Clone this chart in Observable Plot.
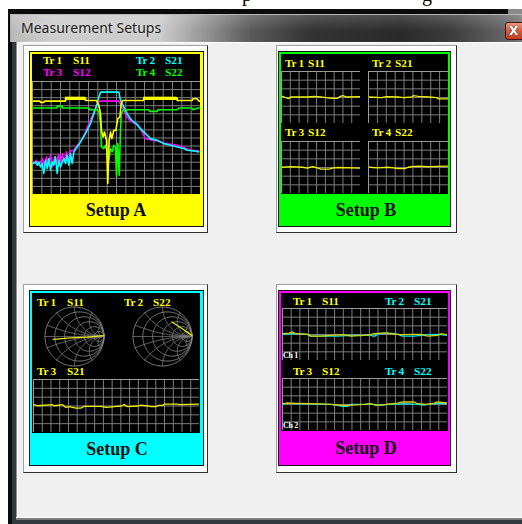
<!DOCTYPE html>
<html><head><meta charset="utf-8">
<script src="https://cdn.jsdelivr.net/npm/d3@7"></script>
<script src="https://cdn.jsdelivr.net/npm/@observablehq/plot@0.6"></script>
<style>
html,body{margin:0;padding:0;}
body{width:522px;height:524px;overflow:hidden;position:relative;background:#fff;}
.a{position:absolute;box-sizing:border-box;}
.t{position:absolute;white-space:pre;line-height:1;}
svg{display:block}
</style></head><body>
<script>
// ---------- data (grid divisions; y measured from the top) ----------
const setups = ["Setup A", "Setup B", "Setup C", "Setup D"];
const aS11 = [[0.07,2.43],[0.79,2.43],[0.86,2.59],[1.21,2.59],[1.29,2.43],[3.54,2.43],[3.54,2.06],[5.68,2.06],[5.68,2.35],[6.86,2.35],[7.11,2.96],[7.29,3.99],[7.39,6.05],[7.57,6.87],[7.71,6.26],[7.93,7.28],[8.07,12.63],[8.21,7.28],[8.36,6.26],[8.5,7.08],[8.71,6.05],[8.93,6.05],[9.14,4.61],[9.36,4.4],[9.5,2.76],[9.64,2.35],[11.93,2.35],[11.93,2.06],[15.5,2.06],[15.5,2.35],[17.11,2.35],[17.18,2.14],[17.64,2.14],[17.82,2.43],[18,2.43]];
const aS11Thick = [[3.54,5.68],[11.93,15.5]];
const aS22 = [[0.07,3.29],[2.64,3.29],[2.64,3.05],[3.18,3.05],[3.18,3.29],[6.04,3.29],[6.14,3.5],[6.93,3.5],[7.11,3.79],[7.29,5.23],[7.39,8.11],[7.64,8.31],[7.82,7.9],[8,8.72],[8.18,9.75],[8.36,8.31],[8.54,8.72],[8.71,7.9],[8.89,8.11],[9,11.81],[9.14,7.7],[9.29,11.6],[9.43,6.05],[9.5,3.99],[9.71,3.58],[10.14,3.5],[12.46,3.5],[12.57,3.7],[13.36,3.7],[13.46,3.5],[15.5,3.5],[15.68,3.29],[17.11,3.29],[17.21,3.5],[17.75,3.29],[18,3.29]];
const aS21 = [[0.07,10.16],[0.32,9.96],[0.5,10.37],[0.68,9.96],[0.86,10.58],[1.04,10.16],[1.21,11.4],[1.39,9.75],[1.57,10.78],[1.75,9.55],[1.93,10.99],[2.11,9.96],[2.29,10.37],[2.46,9.34],[2.64,11.4],[2.82,9.75],[3,10.58],[3.18,9.96],[3.36,9.55],[3.54,10.16],[3.71,9.14],[3.89,10.37],[4.07,8.93],[4.25,10.16],[4.43,8.72],[4.79,8.11],[5.14,7.49],[5.68,6.46],[6.21,5.23],[6.57,3.99],[6.93,2.76],[7.11,1.93],[7.29,1.32],[9.25,1.32],[9.43,2.35],[9.79,3.17],[10.14,3.99],[10.5,4.61],[10.86,5.02],[11.21,5.31],[11.57,5.84],[12.11,6.46],[12.64,7.08],[13.36,7.28],[14.07,7.7],[14.79,7.9],[15.5,8.11],[16.21,8.31],[16.57,8.52],[17.29,8.6],[17.82,8.72]];
const aS12 = [[0.07,9.96],[0.21,10.16],[0.43,9.75],[0.64,10.37],[0.86,9.96],[1.07,9.55],[1.29,10.58],[1.5,9.34],[1.71,10.37],[1.93,9.14],[2.14,10.58],[2.36,9.34],[2.57,10.16],[2.79,9.01],[3,10.37],[3.21,8.93],[3.43,9.96],[3.64,8.72],[3.86,9.75],[4.07,8.6],[4.43,8.52],[4.79,7.9],[5.14,7.49],[5.61,6.46],[6.04,5.23],[6.5,3.99],[6.93,2.76],[7.21,2.43],[9.25,2.43],[9.5,2.96],[9.79,3.58],[10.14,4.4],[10.5,4.9],[11.04,5.23],[11.57,5.84],[12.11,7.08],[12.64,7.2],[13.36,7.37],[14.07,7.61],[14.79,7.78],[15.5,7.9],[16.21,8.19],[16.93,8.52],[17.82,8.6]];
const bS11 = [[0.08,2.86],[0.46,3.02],[0.84,3.13],[1.03,2.94],[2.95,2.94],[3.72,2.86],[4.48,2.94],[5.63,3.09],[6.4,3.09],[6.59,2.94],[6.97,2.79],[7.36,2.94],[9,2.9]];
const bS21 = [[0.11,2.94],[1.44,3.02],[2.01,2.9],[3.33,2.94],[3.9,3.02],[4.85,2.94],[5.04,2.79],[5.61,2.86],[6.74,2.94],[7.69,3.02],[7.88,3.17],[9,3.17]];
const bS12 = [[0.08,2.97],[1.03,2.89],[2.38,2.97],[2.95,3.08],[3.52,2.89],[3.91,3.0],[4.48,3.19],[5.44,3.19],[5.82,3.08],[6.4,3.0],[9,3.08]];
const bS22 = [[0.11,2.97],[1.06,3.04],[2.2,2.97],[2.77,3.04],[3.33,3.12],[4.09,3.12],[4.47,2.97],[4.85,2.89],[5.61,2.85],[6.74,2.89],[9,2.85]];
const cS21 = [[0,2.85],[0.46,2.97],[2.18,2.85],[2.37,2.97],[3.33,2.85],[3.71,3.16],[4.09,3.08],[4.85,3.23],[5.43,3.23],[5.81,3.04],[7.72,3.04],[8.3,3.16],[9.25,3.08],[10.02,3.0],[10.4,2.85],[10.78,3.08],[11.93,3.0],[12.31,2.89],[12.88,2.97],[13.46,3.08],[14.03,3.08],[14.3,2.93],[14.79,2.93],[14.98,2.78],[16.51,2.78],[16.7,2.85],[19,2.78]];
const cSmithS11 = [[-0.72,-0.1],[-0.14,-0.05],[0.43,-0.02],[1.0,0.03]];
const cSmithS22 = [[0.32,0.49],[0.66,0.27],[1.0,0.03]];
const smithR = [0, 0.2, 0.5, 1, 2, 5];
const smithX = [0, 0.2, -0.2, 0.5, -0.5, 1, -1, 2, -2, 5, -5];
const dS11 = [[0,2.91],[0.77,2.83],[1.15,2.71],[1.54,2.91],[2.88,2.98],[3.26,3.18],[4.41,3.18],[5.57,3.1],[6.91,3.02],[7.87,3.18],[9.4,3.1],[10.17,3.02],[10.56,2.91],[11.32,2.83],[11.9,2.83],[12.48,2.91],[13.05,2.98],[13.82,3.02],[15.16,2.98],[15.93,2.98],[16.7,3.18],[17.85,3.1],[18.23,2.91],[19,3.02]];
const dS21 = [[0,2.98],[0.96,2.91],[1.73,2.91],[2.88,2.98],[3.26,3.18],[4.8,3.18],[6.33,3.18],[7.87,3.1],[10.17,3.1],[10.56,3.22],[10.94,2.98],[11.52,2.83],[12.09,2.83],[13.05,2.91],[13.82,3.18],[15.16,3.18],[16.7,3.02],[17.85,2.98],[19,3.1]];
const dS12 = [[0,2.91],[0.58,2.83],[3.26,2.91],[5.57,2.98],[6.72,3.1],[7.49,3.1],[9.4,2.98],[10.17,2.91],[10.75,3.1],[11.71,3.02],[13.24,2.83],[13.82,2.71],[15.16,2.71],[15.55,2.91],[16.7,2.98],[17.47,2.83],[17.85,2.71],[19,2.83]];
const dS22 = [[0,2.98],[0.58,2.83],[1.34,2.91],[5.57,2.98],[6.33,3.1],[6.91,3.22],[7.49,3.22],[7.87,2.98],[9.79,2.98],[10.56,2.98],[11.32,3.1],[12.09,2.98],[14.01,2.91],[15.55,2.98],[16.31,3.06],[17.08,2.91],[19,2.91]];

// ---------- helpers ----------
const SERIF = '"Liberation Serif","DejaVu Serif",serif';
const GRID = "#7e7e7e", FRAME = "#9c9c9c";
const YEL = "#ffff00", CYA = "#00ffff", MAG = "#ff00ff", GRN = "#00ff00";
const HS = 11.3; // header font size
function box(l, t, w, h, st) {
  const d = document.createElement("div"); d.className = "a";
  Object.assign(d.style, {left: l + "px", top: t + "px", width: w + "px", height: h + "px"}, st || {});
  document.body.appendChild(d); return d;
}
function txt(s, x, base, size, color, opt = {}) {
  const d = document.createElement("div"); d.className = "t"; d.textContent = s;
  const asc = opt.asc ?? 0.8375;
  d.style.fontFamily = opt.family || SERIF;
  d.style.fontWeight = opt.weight || "bold";
  d.style.fontSize = size + "px"; d.style.color = color;
  d.style.top = (base - asc * size) + "px";
  if (opt.center) { d.style.left = (x - 150) + "px"; d.style.width = "300px"; d.style.textAlign = "center"; }
  else d.style.left = x + "px";
  if (opt.ls != null) d.style.letterSpacing = opt.ls + "px";
  if (opt.shadow) d.style.textShadow = opt.shadow;
  document.body.appendChild(d); return d;
}
function head(tr, s, x1, x2, base, color) { txt(tr, x1, base, HS, color, {ls: -0.3}); txt(s, x2, base, HS, color); }
function place(svg, l, t) { svg.style.position = "absolute"; svg.style.left = l + "px"; svg.style.top = t + "px"; document.body.appendChild(svg); }
function scope(l, t, w, h, cols, rows, traces, sw, extra = []) {
  const marks = [
    Plot.ruleX(d3.range(1, cols), {stroke: GRID}),
    Plot.ruleY(d3.range(1, rows), {stroke: GRID}),
    Plot.frame({stroke: FRAME}),
    ...extra
  ];
  for (const tr of traces) marks.push(Plot.line(tr.data, {x: d => d[0], y: d => d[1], stroke: tr.color, strokeWidth: sw, clip: true}));
  place(Plot.plot({width: w, height: h, margin: 0, x: {domain: [0, cols], axis: null}, y: {domain: [rows, 0], axis: null}, style: {background: "#000"}, marks}), l, t);
}
function gam(r, x) { const den = (r + 1) * (r + 1) + x * x; return [(r * r + x * x - 1) / den, 2 * x / den]; }
function smith(l, t, size, traces) {
  const pts = [], N = 160;
  for (const r of smithR) for (let i = 0; i <= N; i++) { const th = -Math.PI / 2 + 0.002 + (Math.PI - 0.004) * i / N; const g = gam(r, Math.tan(th)); pts.push({k: "r" + r, gx: g[0], gy: g[1]}); }
  for (const xv of smithX) for (let i = 0; i <= N; i++) { const th = (Math.PI / 2 - 0.002) * i / N; const g = gam(Math.tan(th), xv); pts.push({k: "x" + xv, gx: g[0], gy: g[1]}); }
  const D = 1.085;
  const marks = [Plot.line(pts, {x: "gx", y: "gy", z: "k", stroke: GRID, strokeWidth: 1})];
  for (const tr of traces) marks.push(Plot.line(tr.data, {x: d => d[0], y: d => d[1], stroke: tr.color, strokeWidth: 1.3}));
  place(Plot.plot({width: size, height: size, margin: 0, x: {domain: [-D, D], axis: null}, y: {domain: [-D, D], axis: null}, style: {background: "transparent"}, marks}), l, t);
}
function panel(o, inner, black, color) {
  box(o[0], o[1], o[2], o[3], {background: "#fff", border: "1px solid", borderColor: "#a0a0a0 #2e2e2e #2e2e2e #a0a0a0"});
  box(inner[0], inner[1], inner[2], inner[3], {background: color, border: "1px solid #151515"});
  box(black[0], black[1], black[2], black[3], {background: "#000"});
}

// ---------- window chrome ----------
box(8, 9, 514, 515, {background: "#0b0b0b"});
box(12, 14, 510, 510, {background: "#33393e"});
box(10, 14, 512, 28, {background: "linear-gradient(to right,#b9b9b9 0px,#cdcdcd 40px,#cbcbcb 150px,#a0a0a0 185px,#5a5a5a 240px,#333 300px,#2a2a2a 390px,#3c3c3c 440px,#6a6a6a 500px,#7a7a7a 512px)", borderTop: "1px solid #a8a8a8", borderLeft: "1px solid #a8a8a8"});
box(10, 14, 512, 28, {background: "linear-gradient(to bottom,rgba(255,255,255,0.18),rgba(255,255,255,0) 60%)"});
txt("Measurement Setups", 21, 33.5, 14, "#1e1e1e", {family: '"Noto Sans","Open Sans",sans-serif', weight: "normal", asc: 0.888, shadow: "0 0 6px rgba(255,255,255,0.7)"});
box(505, 22, 40, 18, {background: "linear-gradient(#eb9a84,#d3583c 50%,#c0401f)", border: "1px solid #4a1208", borderRadius: "3px"});
txt("X", 509, 36, 12, "#fff", {family: '"DejaVu Sans",sans-serif', asc: 0.93, shadow: "0 0 1px #333, 0 0 1px #333"});
box(16, 42, 506, 476, {background: "#f0f0f0", borderLeft: "1px solid #8f8f8f", boxShadow: "inset 1px 0 #ffffff, inset 0 1px #ffffff"});
box(16, 517, 506, 1, {background: "#ffffff"});
box(16, 518, 506, 2, {background: "#7c7c7c"});
// partial document text at the very top (cut off by the window, as in the screenshot)
txt("p", 242, 1, 20, "#000", {weight: "normal"});
txt("g", 422, 1, 20, "#000", {weight: "normal"});
box(8, 9, 514, 5, {background: "#0b0b0b"});
box(508, 9, 14, 5, {background: "#8a8a8a"});

// ---------- Setup A ----------
panel([23, 45, 185, 188], [29, 51, 175, 176], [32, 54, 168, 140], YEL);
scope(32, 81, 168, 113, 18, 14, [
  {data: aS12, color: MAG}, {data: aS21, color: CYA}, {data: aS22, color: GRN}, {data: aS11, color: YEL}
], 1.6, [Plot.rect(aS11Thick, {x1: d => d[0], x2: d => d[1], y1: 1.94, y2: 2.35, fill: YEL})]);
head("Tr 1", "S11", 43, 73, 64.3, YEL);
head("Tr 2", "S21", 136, 165, 64.3, CYA);
head("Tr 3", "S12", 43, 73, 76, MAG);
head("Tr 4", "S22", 136, 165, 76, GRN);
txt(setups[0], 116, 216, 18, "#111", {center: true});

// ---------- Setup B ----------
panel([276, 45, 181, 188], [278, 51, 173, 176], [281, 54, 167, 140], GRN);
scope(281, 71, 79, 52, 9, 6, [{data: bS11, color: "#f0f000"}], 1.3);
scope(368, 71, 80, 52, 9, 6, [{data: bS21, color: "#f0f000"}], 1.3);
scope(281, 141, 79, 52, 9, 6, [{data: bS12, color: "#f0f000"}], 1.3);
scope(368, 141, 80, 52, 9, 6, [{data: bS22, color: "#f0f000"}], 1.3);
head("Tr 1", "S11", 285, 308, 67.3, YEL);
head("Tr 2", "S21", 372, 395, 67.3, YEL);
head("Tr 3", "S12", 285, 308, 136.7, YEL);
head("Tr 4", "S22", 372, 395, 136.7, YEL);
txt(setups[1], 366, 216, 18, "#111", {center: true});

// ---------- Setup C ----------
panel([23, 284, 185, 189], [29, 290, 175, 176], [32, 293, 168, 140], CYA);
smith(42, 304, 64, [{data: cSmithS11, color: "#e8e800"}]);
smith(130, 304, 64, [{data: cSmithS22, color: "#e8e800"}]);
scope(33, 379, 166, 53, 19, 6, [{data: cS21, color: "#f0f000"}], 1.3);
head("Tr 1", "S11", 37, 67, 306, YEL);
head("Tr 2", "S22", 124, 153, 306, YEL);
head("Tr 3", "S21", 37, 67, 375, YEL);
txt(setups[2], 117, 455, 18, "#111", {center: true});

// ---------- Setup D ----------
panel([276, 284, 181, 189], [278, 290, 173, 176], [281, 293, 167, 138], MAG);
scope(282, 308, 165, 52, 19, 6, [{data: dS21, color: "#00e8e8"}, {data: dS11, color: "#d8d000"}], 1.3);
scope(282, 378, 165, 52, 19, 6, [{data: dS22, color: "#00e8e8"}, {data: dS12, color: "#d8d000"}], 1.3);
head("Tr 1", "S11", 293, 322, 305, YEL);
head("Tr 2", "S21", 385, 414, 305, CYA);
head("Tr 3", "S12", 293, 322, 375, YEL);
head("Tr 4", "S22", 385, 414, 375, CYA);
txt("Ch 1", 283, 359, 8, "#fff", {ls: -0.3});
txt("Ch 2", 283, 429, 8, "#fff", {ls: -0.3});
txt(setups[3], 366, 454, 18, "#111", {center: true});
</script></body></html>
